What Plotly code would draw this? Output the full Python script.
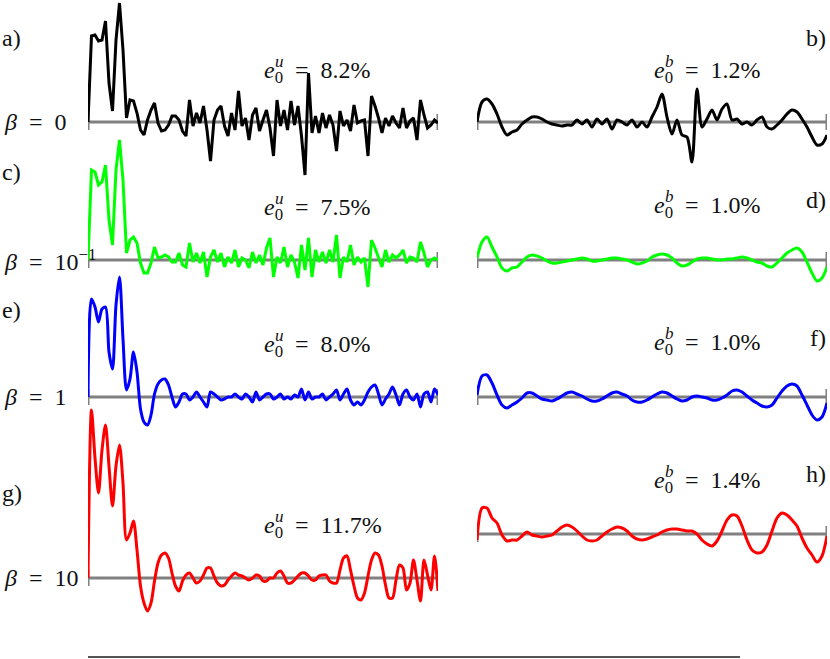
import plotly.graph_objects as go

# ---------------- data (values in display units) ----------------
u_beta0 = [0, 86, 87, 81, 82, 101, 39, 11, 82, 119, 72, 4, 22, 21, 9, -8, -13, 2, 12, 19,
           -1, -9, -8, -3, 6, 6, 2, -9, -14, 22, -4, 9, -1, 16, -8, -39, 2, 12, 16, -4,
           -14, 9, -8, 31, -4, 4, -18, 7, 14, -9, 2, 12, -6, -34, 22, -4, 12, -8, 21, -3,
           16, -14, -53, 49, -11, 6, -11, 9, -6, 7, -3, -29, 11, -4, 2, -9, 17, -1, 1, 2,
           -34, 26, 16, 4, -11, 4, -4, 6, -1, -6, 14, -6, 1, 4, -18, 22, 7, -6, -3, 2, -1]
u_beta01 = [0, 90, 88, 75, 78, 95, 40, 15, 90, 120, 80, 7, 20, 23, 17, -3, -13, -13, -3, 13,
            2, 3, 5, 3, -2, -2, 7, -5, -7, 17, -2, 7, -3, 8, -17, 3, 10, -2, 7, -7,
            3, -3, 10, -7, 2, 0, -8, 8, -3, 5, -5, 12, 22, -17, 3, -3, 13, -7, 5, -2,
            -18, 15, -10, 22, -17, 10, -2, 8, -3, 10, -2, 25, -18, 3, -2, 15, -5, 3, -2, 2,
            -27, 20, 12, 3, -7, 10, -2, 5, 2, 5, 10, -3, 3, 2, -2, 18, 7, -7, 0, 2, 0]
u_beta1 = [0, 98, 90, 75, 88, 90, 45, 28, 92, 120, 58, 7, 18, 45, 25, -12, -25, -28, -18, 3,
           13, 17, 18, 12, 0, -10, -5, 3, 3, -3, 0, 5, 0, -5, -10, 5, 3, 0, -3, -2,
           0, 0, 3, 0, -2, 3, 0, -5, 5, -3, 0, 3, 3, -2, 0, 3, -2, 0, -2, 2,
           0, 8, -3, 5, -2, 0, 0, 3, -3, 0, 3, 7, -3, 3, 8, -3, -8, -5, -8, -3,
           5, 10, 12, 3, -8, -2, 3, 10, 2, -8, 3, 7, 0, -3, 3, -10, 3, 5, -5, 8, 2]
u_beta10 = [0, 168, 120, 85, 128, 153, 112, 72, 112, 133, 95, 38, 45, 57, 28, -8, -25, -33, -25, -3,
            15, 23, 25, 20, 5, -8, -13, -3, 3, 5, 0, -5, -3, 3, 10, 10, 2, -5, -8, -7,
            -2, 2, 5, 3, 2, 0, -2, 0, 3, 2, -3, -3, 0, 0, 5, 7, 2, -5, -5, -2,
            2, 5, 5, 2, -2, -2, 2, 3, 3, -3, -5, -5, 8, 20, 22, 8, -8, -20, -22, -15,
            2, 18, 25, 23, 12, -7, -20, -20, -2, 13, 10, -12, -5, 18, -2, -23, 18, 3, -12, 22, -13]

b_beta0 = [0, 20, 23, 18, 8, -5, -13, -10, -8, -2, 2, 5, 5, 3, 0, -2, -3, -4, -3, -3,
           2, -2, 2, -5, 3, -2, 3, -7, 2, 0, -3, 2, -5, 0, -5, 5, 15, 28, 5, -12,
           2, -13, -15, -40, 33, -5, 3, 12, 2, 13, 18, 2, 3, -2, 0, -3, 2, 5, -5, -7,
           -3, 2, 8, 12, 10, 3, -5, -15, -23, -22, -13]
b_beta01 = [2, 18, 23, 13, 3, -8, -11, -8, -7, -2, 3, 5, 4, 2, -1, -3, -3, -2, -1, 0,
            1, 2, 1, -1, -1, 0, 1, 2, 2, 1, 0, -2, -4, -3, -1, 3, 5, 6, 5, 2,
            -3, -6, -5, -2, 1, 2, 2, 1, 0, 0, 1, 1, 2, 3, 2, 0, -2, -3, -6, -7,
            -3, 2, 7, 10, 12, 8, -2, -13, -21, -18, -7]
b_beta1 = [2, 21, 22, 14, 2, -8, -11, -8, -5, -1, 4, 4, 1, -2, -3, -4, -2, 1, 4, 5,
           3, 1, -2, -4, -4, -2, 1, 4, 5, 3, 1, -3, -5, -5, -3, 0, 3, 5, 4, 1,
           -2, -4, -3, 0, 1, 0, -1, -3, -3, -1, 2, 6, 7, 5, 1, -3, -6, -9, -10, -8,
           -1, 6, 11, 13, 11, 2, -8, -18, -23, -20, -6]
b_beta10 = [-6, 26, 26, 16, 11, -1, -7, -6, -6, -2, 2, -1, -2, -3, -2, -1, 3, 7, 9, 7,
            3, -2, -6, -7, -6, -2, 2, 5, 7, 6, 3, -2, -5, -6, -5, -3, -1, 2, 4, 5,
            5, 4, 3, 3, 0, -6, -10, -12, -7, 3, 14, 19, 18, 8, -6, -16, -19, -18, -11, 3,
            16, 21, 19, 14, 8, -4, -14, -21, -28, -22, -2]

colors = ["#000000", "#00ff00", "#0000ff", "#ff0000"]
SP = "\u2002"
beta_labels = ["<i>β</i>" + SP + "=" + SP + "0",
               "<i>β</i>" + SP + "=" + SP + "10<sup>−1</sup>",
               "<i>β</i>" + SP + "=" + SP + "1",
               "<i>β</i>" + SP + "=" + SP + "10"]
left_letters = ["a)", "c)", "e)", "g)"]
right_letters = ["b)", "d)", "f)", "h)"]
e_u_values = ["8.2%", "7.5%", "8.0%", "11.7%"]
e_b_values = ["1.2%", "1.0%", "1.0%", "1.4%"]

u_series = [u_beta0, u_beta01, u_beta1, u_beta10]
b_series = [b_beta0, b_beta01, b_beta1, b_beta10]

# ---------------- layout geometry (pixels) ----------------
W, H = 830, 659
left_x = (88, 438)
right_x = (477, 827)
u_base = [122, 260, 397, 578]
b_base = [122, 260, 397, 534]
left_letter_y = [38, 172, 310, 493]
right_letter_y = [38, 200, 338, 474]
eu_y = [69, 206, 343, 524]
eb_y = [69, 204, 341, 479]
eu_left = 262
eb_left = 652
FONT = "Liberation Serif"
FS = 24
E_W = 10.7  # advance of the italic "e" at FS


def fx(p):
    return p / W


def fy(p):
    return 1 - p / H


fig = go.Figure()
layout = dict(width=W, height=H, margin=dict(l=0, r=0, t=0, b=0),
              paper_bgcolor="white", plot_bgcolor="rgba(0,0,0,0)", showlegend=False)

layout["xaxis"] = dict(domain=[fx(left_x[0]), fx(left_x[1])], range=[0, len(u_beta0) - 1],
                       visible=False, fixedrange=True)
layout["xaxis2"] = dict(domain=[fx(right_x[0]), fx(right_x[1])], range=[0, len(b_beta0) - 1],
                        visible=False, fixedrange=True)

shapes = []
GRAY = "#808080"
ax_i = 1
for k in range(4):
    for side in ("u", "b"):
        data = u_series[k] if side == "u" else b_series[k]
        base = u_base[k] if side == "u" else b_base[k]
        xref = "x" if side == "u" else "x2"
        yname = "yaxis" if ax_i == 1 else f"yaxis{ax_i}"
        yref = "y" if ax_i == 1 else f"y{ax_i}"
        layout[yname] = dict(domain=[0, 1], range=[base - H, base], visible=False,
                             anchor=xref, fixedrange=True)
        n = len(data)
        # baseline with end ticks
        shapes.append(dict(type="line", xref=xref, yref=yref, x0=0, x1=n - 1, y0=0, y1=0,
                           line=dict(color=GRAY, width=3), layer="below"))
        for xe in (0, n - 1):
            shapes.append(dict(type="line", xref=xref, yref=yref, x0=xe, x1=xe, y0=-8, y1=8,
                               line=dict(color=GRAY, width=3), layer="below"))
        smooth = not (side == "u" and k < 2)
        fig.add_trace(go.Scatter(
            x=list(range(n)), y=data, mode="lines", xaxis=xref, yaxis=yref,
            line=dict(color=colors[k], width=3,
                      shape="spline" if smooth else "linear",
                      smoothing=0.8 if smooth else None),
            hoverinfo="skip"))
        ax_i += 1

# bottom rule
shapes.append(dict(type="line", xref="paper", yref="paper", x0=fx(88), x1=fx(740),
                   y0=fy(657), y1=fy(657), line=dict(color="#555555", width=2)))

annotations = []
tf = dict(family=FONT, size=FS, color="#111111")
sf = dict(family=FONT, size=17, color="#111111")
for k in range(4):
    annotations.append(dict(text=left_letters[k], x=fx(0), y=fy(left_letter_y[k]),
                            xanchor="left", yanchor="middle", font=tf))
    annotations.append(dict(text=right_letters[k], x=fx(828), y=fy(right_letter_y[k]),
                            xanchor="right", yanchor="middle", font=tf))
    annotations.append(dict(text=beta_labels[k], x=fx(2), y=fy(u_base[k]),
                            xanchor="left", yanchor="middle", font=tf))
    for left, yc, sup, val in ((eu_left, eu_y[k], "u", e_u_values[k]),
                               (eb_left, eb_y[k], "b", e_b_values[k])):
        annotations.append(dict(text="<i>e</i><sub>0</sub>" + SP + "=" + SP + val,
                                x=fx(left), y=fy(yc + 3), xanchor="left", yanchor="middle",
                                font=tf))
        annotations.append(dict(text="<i>" + sup + "</i>",
                                x=fx(left + E_W), y=fy(yc - 8), xanchor="left",
                                yanchor="middle", font=sf))
for a in annotations:
    a.update(xref="paper", yref="paper", showarrow=False)

layout["shapes"] = shapes
layout["annotations"] = annotations
fig.update_layout(**layout)
fig.write_html("out.html", post_script="document.body.style.margin='0';",
               config={"displayModeBar": False})
